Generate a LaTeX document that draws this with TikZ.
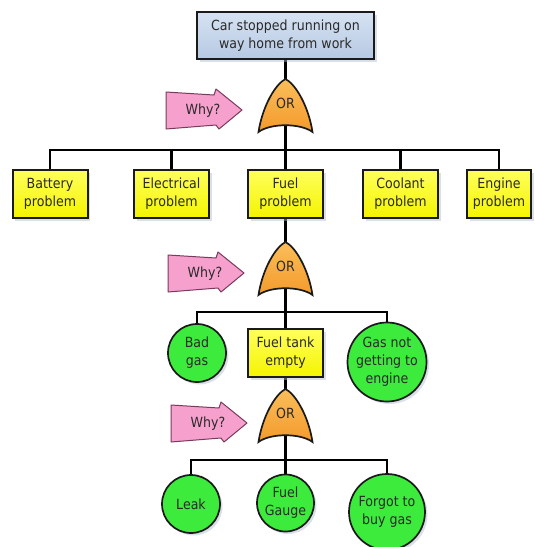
\documentclass[tikz,border=0pt]{standalone}
\usepackage{fontspec}
\setmainfont{DejaVu Sans Condensed}
\usetikzlibrary{shadows,backgrounds}

\definecolor{ink}{HTML}{2A2A2A}
\definecolor{edge}{HTML}{1A1A1A}
\definecolor{blueTop}{HTML}{D6E2F2}
\definecolor{blueBot}{HTML}{B6C9E3}
\definecolor{yellowTop}{HTML}{FFFF5C}
\definecolor{yellowBot}{HTML}{F4F400}
\definecolor{greenFill}{HTML}{3CEB3C}
\definecolor{gateTop}{HTML}{FBBE5A}
\definecolor{gateBot}{HTML}{F39A2C}
\definecolor{pinkFill}{HTML}{F5A0CD}
\definecolor{pinkEdge}{HTML}{7A3A5C}
\definecolor{shadowTint}{HTML}{AEB8CC}

\tikzset{
  label font/.style={font=\fontsize{14}{18}\selectfont, text=ink, align=center},
  soft shadow/.style={drop shadow={shadow xshift=2.5pt, shadow yshift=-2.5pt,
      fill=shadowTint, opacity=.45}},
  topevent/.style={label font, rectangle, draw=edge, line width=2pt,
      top color=blueTop, bottom color=blueBot, inner sep=0pt,
      minimum width=177, minimum height=47, soft shadow},
  midevent/.style={label font, rectangle, draw=edge, line width=2pt,
      top color=yellowTop, bottom color=yellowBot, inner sep=0pt,
      minimum width=75, minimum height=48, soft shadow},
  basic/.style={label font, circle, draw=edge, line width=1.7pt,
      fill=greenFill, inner sep=0pt, soft shadow},
  wire/.style={draw=black, line width=2.3pt},
  orgate/.pic={
    \path[draw=edge, line width=1.7pt, top color=gateTop, bottom color=gateBot]
      (0,0) .. controls (10,5) and (23,27) .. (27,53)
            .. controls (15,44) and (-15,44) .. (-27,53)
            .. controls (-23,27) and (-10,5) .. cycle;
    \node[inner sep=0pt, minimum width=54, minimum height=53, anchor=north] (-box) at (0,0) {};
    \node[label font, inner sep=0pt] (-lbl) at (0,24) {OR};
  },
  whyarrow/.pic={
    \path[draw=pinkEdge, line width=1pt, line join=round, fill=pinkFill]
      (0,-18) -- (48,-15) -- (50,-21) -- (76,0) -- (53,19) -- (50,15) -- (0,19) -- cycle;
    \node[label font, inner sep=0pt] (-lbl) at (37,1) {Why?};
  },
}

\begin{document}
\begin{tikzpicture}[x=1pt, y=-1pt]
  \useasboundingbox (0,0) rectangle (535,547);

  % top event
  \node[topevent] (top) at (285.5,35.5) {Car stopped running on\\way home from work};

  % first level
  \pic (g1) at (285.5,79) {orgate};
  \pic (w1) at (166,110) {whyarrow};
  \coordinate (j1) at (285.5,150);
  \node[midevent] (battery)    at (50,194)    {Battery\\problem};
  \node[midevent] (electrical) at (171.5,194) {Electrical\\problem};
  \node[midevent] (fuel)       at (285.5,194) {Fuel\\problem};
  \node[midevent] (coolant)    at (400.5,194) {Coolant\\problem};
  \node[midevent, minimum width=64] (engine) at (499,194) {Engine\\problem};

  % second level
  \pic (g2) at (285.5,242) {orgate};
  \pic (w2) at (168,273) {whyarrow};
  \coordinate (j2) at (285.5,312);
  \node[basic, minimum size=58] (badgas) at (197,353) {Bad\\gas};
  \node[midevent] (tank) at (285.5,353) {Fuel tank\\empty};
  \node[basic, minimum size=76] (gasnot) at (387,362) {Gas not\\getting to\\engine};

  % third level
  \pic (g3) at (285.5,389) {orgate};
  \pic (w3) at (171,423) {whyarrow};
  \coordinate (j3) at (285.5,460);
  \node[basic, minimum size=58] (leak)   at (191,504) {Leak};
  \node[basic, minimum size=57] (gauge)  at (285.5,503) {Fuel\\Gauge};
  \node[basic, minimum size=76] (forgot) at (387,512) {Forgot to\\buy gas};

  % connectors, kept behind the shapes
  \begin{pgfonlayer}{background}
    \draw[wire] (top.south) -- (g1-box.center) -- (j1);
    \foreach \n in {battery,electrical,coolant,engine}
      \draw[wire] (j1) -| (\n.north);
    \draw[wire] (j1) -- (fuel.north);

    \draw[wire] (fuel.south) -- (g2-box.center) -- (j2);
    \foreach \n in {badgas,gasnot}
      \draw[wire] (j2) -| (\n.north);
    \draw[wire] (j2) -- (tank.north);

    \draw[wire] (tank.south) -- (g3-box.center) -- (j3);
    \foreach \n in {leak,forgot}
      \draw[wire] (j3) -| (\n.north);
    \draw[wire] (j3) -- (gauge.north);
  \end{pgfonlayer}
\end{tikzpicture}
\end{document}
